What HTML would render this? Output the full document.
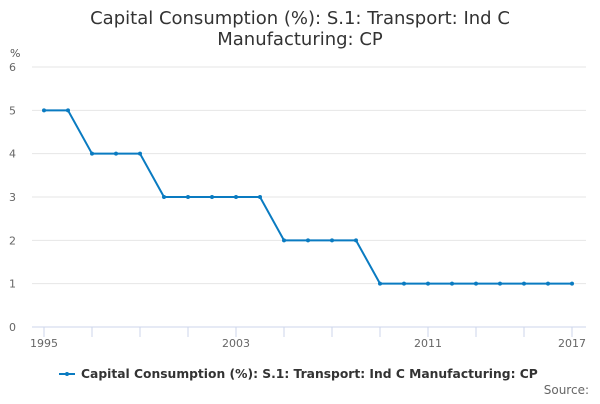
<!DOCTYPE html>
<html><head><meta charset="utf-8"><style>
body{margin:0;background:#fff;font-family:"DejaVu Sans","Liberation Sans",sans-serif;}
svg text{font-family:"DejaVu Sans","Liberation Sans",sans-serif;}
</style></head><body>
<svg id="c" width="600" height="400" xmlns="http://www.w3.org/2000/svg">
<text x="300" y="24" text-anchor="middle" font-size="18" fill="#333"><tspan x="300">Capital Consumption (%): S.1: Transport: Ind C</tspan><tspan x="300" dy="21">Manufacturing: CP</tspan></text>
<text x="10" y="57" font-size="11" fill="#555">%</text>
<g id="grid"></g><g id="xax"></g><g id="series"></g>
<g>
<line x1="59" y1="374" x2="75" y2="374" stroke="#0a7bc1" stroke-width="2"/>
<circle cx="67" cy="374" r="2" fill="#0a7bc1"/>
<text x="81" y="378" font-size="12.3" font-weight="bold" fill="#333">Capital Consumption (%): S.1: Transport: Ind C Manufacturing: CP</text>
</g>
<text x="589" y="394" text-anchor="end" font-size="12" fill="#666">Source:</text>
</svg>
<script>
const years=[1995,1996,1997,1998,1999,2000,2001,2002,2003,2004,2005,2006,2007,2008,2009,2010,2011,2012,2013,2014,2015,2016,2017];
const values=[5,5,4,4,4,3,3,3,3,3,2,2,2,2,1,1,1,1,1,1,1,1,1];
const yTicks=[0,1,2,3,4,5,6];
const xLabels=[1995,2003,2011,2017];
const NS="http://www.w3.org/2000/svg";
const x=v=>44+(v-1995)*24;
const y=v=>327-v*43.33;
function mk(t,a,p){const e=document.createElementNS(NS,t);for(const k in a)e.setAttribute(k,a[k]);p.appendChild(e);return e;}
const g=document.getElementById('grid'),xa=document.getElementById('xax'),s=document.getElementById('series');
yTicks.forEach(t=>{
 if(t>0){const l=mk('line',{x1:32,x2:586,y1:y(t),y2:y(t),stroke:'#e6e6e6'},g);
 
 }
 const tx=mk('text',{x:16,y:y(t)+4,'text-anchor':'end','font-size':11,fill:'#666'},g);tx.textContent=t;
 
 
});
const ax=mk('line',{x1:32,x2:586,y1:327,y2:327,stroke:'#ccd6eb'},xa);


for(let yr=1995;yr<=2017;yr+=2){const t=mk('line',{x1:x(yr),x2:x(yr),y1:327,y2:337,stroke:'#ccd6eb'},xa);
 
 }
xLabels.forEach(yr=>{const t=mk('text',{x:x(yr),y:347,'text-anchor':'middle','font-size':11,fill:'#666'},xa);t.textContent=yr;
 
 });
const p=mk('polyline',{points:years.map((yr,i)=>x(yr)+','+y(values[i])).join(' '),fill:'none',stroke:'#0a7bc1','stroke-width':2},s);


years.forEach((yr,i)=>{const c=mk('circle',{cx:x(yr),cy:y(values[i]),r:2,fill:'#0a7bc1'},s);
 
 });
</script>
</body></html>
